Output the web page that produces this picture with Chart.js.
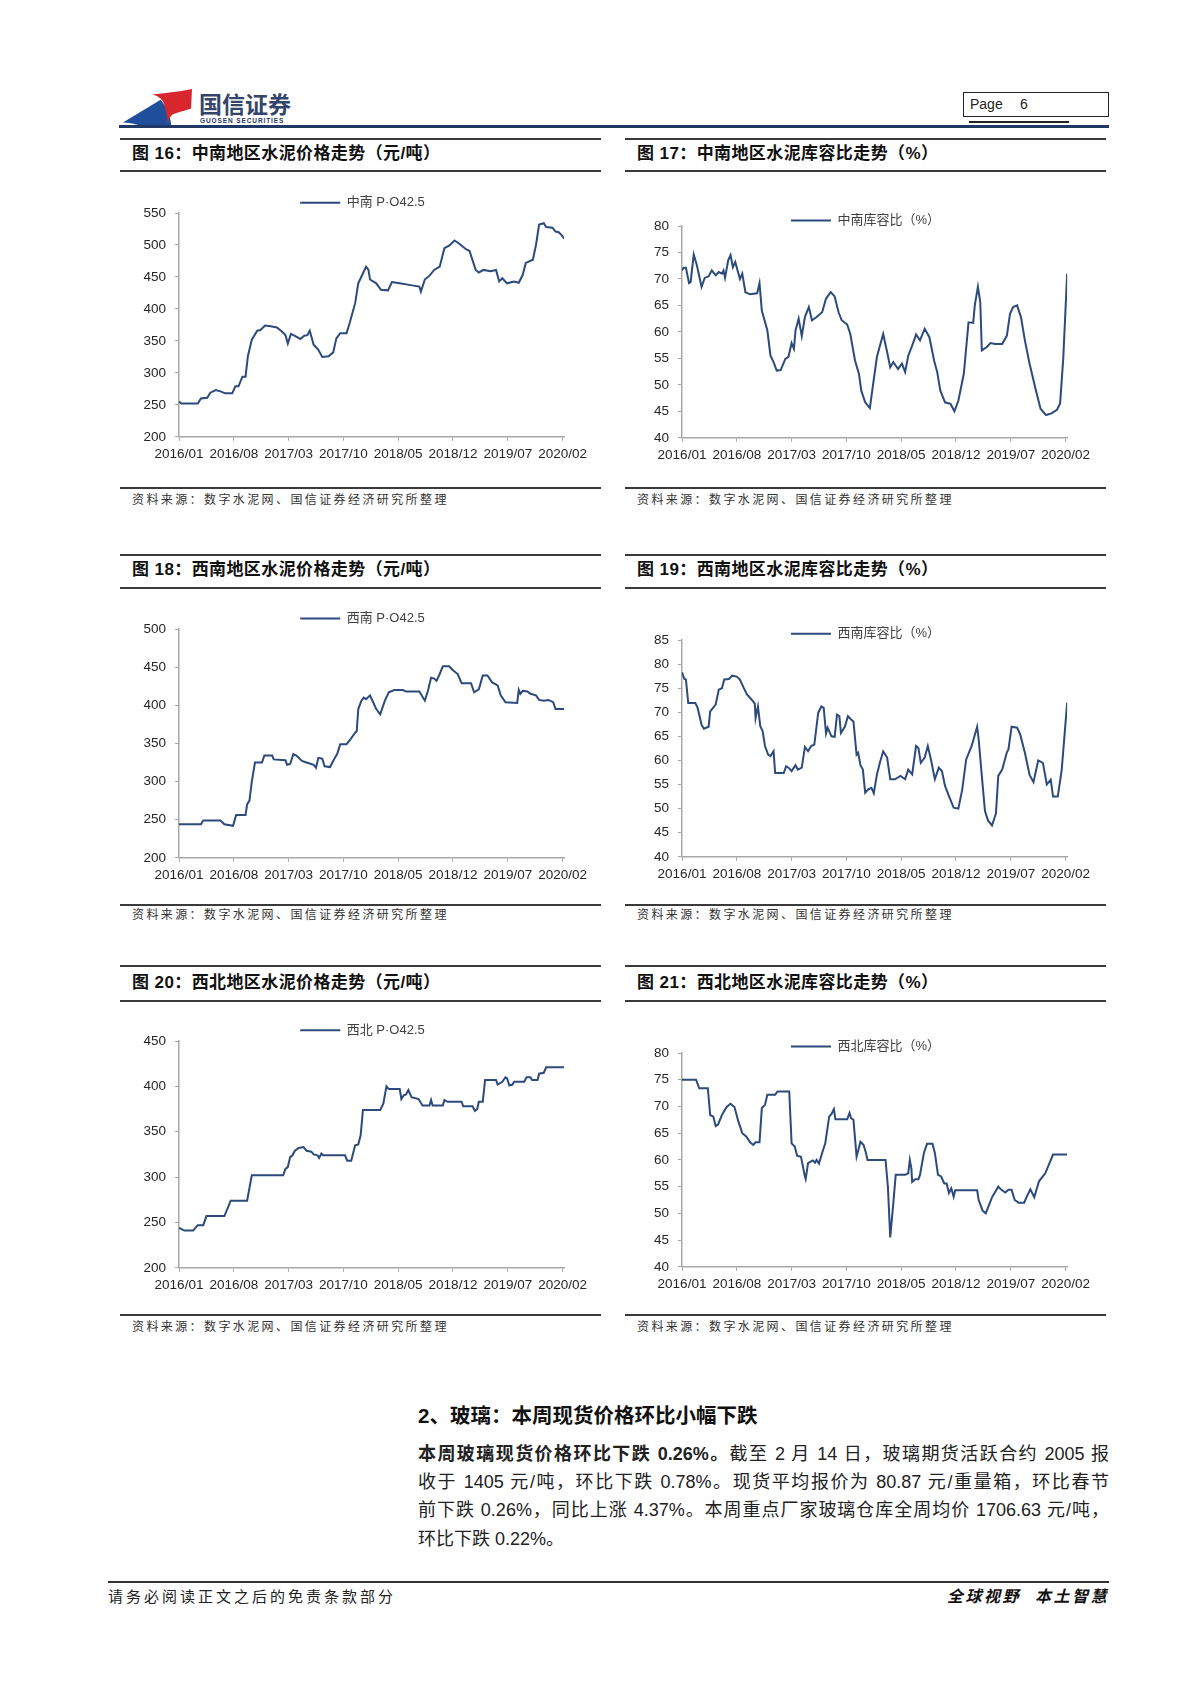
<!DOCTYPE html>
<html lang="zh-CN">
<head>
<meta charset="UTF-8">
<title>国信证券 Page 6</title>
<style>
  body { margin: 0; width: 1200px; height: 1698px; position: relative; background: #fff;
         font-family: "Liberation Sans", "Noto Sans CJK SC", sans-serif; color: #222; overflow: hidden; }
  .abs { position: absolute; }
  .rule { position: absolute; height: 2px; background: #3a3a3a; }
  .title { position: absolute; font-size: 17px; font-weight: 700; line-height: 22px; color: #111;
           white-space: nowrap; letter-spacing: 0.4px; }
  .src { position: absolute; font-size: 12px; line-height: 16px; letter-spacing: 2.4px; color: #333; white-space: nowrap; }
  canvas { position: absolute; }
  .para { position: absolute; left: 418px; width: 691px; font-size: 18px; line-height: 28px; color: #222;
          text-align: justify; text-align-last: justify; }
</style>
</head>
<body>
  <!-- header -->
  <svg class="abs" style="left:120px;top:84px" width="76" height="46" viewBox="0 0 76 46">
    <path d="M3,38.6 L40.6,15.8 C47,24 51,33 51.4,43 L26.5,44 C20,41 11,39 3,38.6 Z" fill="#1f4f9a"/>
    <path d="M31.9,10.4 C45,9 58,8 72,5 L71,24.5 C64,27 58,28 53.6,30 C50,32 48.5,36 48,39.7 C47,30 45,22 42.7,16.9 C40,13 36,11 31.9,10.4 Z" fill="#d8262e"/>
  </svg>
  <div class="abs" style="left:199px;top:90px;font-size:23px;line-height:26px;font-weight:700;color:#34456b;font-family:'Noto Sans CJK SC'">国信证券</div>
  <div class="abs" style="left:200px;top:117px;font-size:6.5px;line-height:7px;font-weight:700;color:#1f3864;letter-spacing:0.9px">GUOSEN SECURITIES</div>
  <div class="abs" style="left:963px;top:92px;width:144px;height:23px;border:1px solid #222;font-size:14px;line-height:23px;">
    <span style="position:absolute;left:6px">Page</span><span style="position:absolute;left:56px">6</span>
  </div>
  <div class="abs" style="left:969px;top:121px;width:100px;height:2px;background:#222"></div>
  <div class="abs" style="left:119px;top:125px;width:990px;height:3px;background:#1f3864"></div>

  <!-- row 1 -->
  <div class="rule" style="left:120px;top:137.5px;width:481px"></div>
  <div class="rule" style="left:120px;top:169.5px;width:481px"></div>
  <div class="rule" style="left:625px;top:137.5px;width:481px"></div>
  <div class="rule" style="left:625px;top:169.5px;width:481px"></div>
  <div class="title" style="left:132px;top:143px">图 16：中南地区水泥价格走势（元/吨）</div>
  <div class="title" style="left:637px;top:143px">图 17：中南地区水泥库容比走势（%）</div>
  <div class="rule" style="left:120px;top:487px;width:481px"></div>
  <div class="rule" style="left:625px;top:487px;width:481px"></div>
  <div class="src" style="left:132px;top:492px">资料来源：数字水泥网、国信证券经济研究所整理</div>
  <div class="src" style="left:637px;top:492px">资料来源：数字水泥网、国信证券经济研究所整理</div>

  <!-- row 2 -->
  <div class="rule" style="left:120px;top:553.5px;width:481px"></div>
  <div class="rule" style="left:120px;top:587px;width:481px"></div>
  <div class="rule" style="left:625px;top:553.5px;width:481px"></div>
  <div class="rule" style="left:625px;top:587px;width:481px"></div>
  <div class="title" style="left:132px;top:559px">图 18：西南地区水泥价格走势（元/吨）</div>
  <div class="title" style="left:637px;top:559px">图 19：西南地区水泥库容比走势（%）</div>
  <div class="rule" style="left:120px;top:904px;width:481px"></div>
  <div class="rule" style="left:625px;top:904px;width:481px"></div>
  <div class="src" style="left:132px;top:907px">资料来源：数字水泥网、国信证券经济研究所整理</div>
  <div class="src" style="left:637px;top:907px">资料来源：数字水泥网、国信证券经济研究所整理</div>

  <!-- row 3 -->
  <div class="rule" style="left:120px;top:965px;width:481px"></div>
  <div class="rule" style="left:120px;top:1000px;width:481px"></div>
  <div class="rule" style="left:625px;top:965px;width:481px"></div>
  <div class="rule" style="left:625px;top:1000px;width:481px"></div>
  <div class="title" style="left:132px;top:972px">图 20：西北地区水泥价格走势（元/吨）</div>
  <div class="title" style="left:637px;top:972px">图 21：西北地区水泥库容比走势（%）</div>
  <div class="rule" style="left:120px;top:1314px;width:481px"></div>
  <div class="rule" style="left:625px;top:1314px;width:481px"></div>
  <div class="src" style="left:132px;top:1319px">资料来源：数字水泥网、国信证券经济研究所整理</div>
  <div class="src" style="left:637px;top:1319px">资料来源：数字水泥网、国信证券经济研究所整理</div>

  <canvas id="c16" width="480" height="300"></canvas>
  <canvas id="c17" width="480" height="300"></canvas>
  <canvas id="c18" width="480" height="300"></canvas>
  <canvas id="c19" width="480" height="300"></canvas>
  <canvas id="c20" width="480" height="300"></canvas>
  <canvas id="c21" width="480" height="300"></canvas>

  <!-- text section -->
  <div class="abs" style="left:418px;top:1402px;font-size:20.5px;line-height:28px;font-weight:700;color:#111">2、玻璃：本周现货价格环比小幅下跌</div>
  <div class="para" style="top:1440px"><b>本周玻璃现货价格环比下跌 0.26%。</b>截至 2 月 14 日，玻璃期货活跃合约 2005 报</div>
  <div class="para" style="top:1468px">收于 1405 元/吨，环比下跌 0.78%。现货平均报价为 80.87 元/重量箱，环比春节</div>
  <div class="para" style="top:1496px">前下跌 0.26%，同比上涨 4.37%。本周重点厂家玻璃仓库全周均价 1706.63 元/吨，</div>
  <div class="para" style="top:1525px;text-align-last:left">环比下跌 0.22%。</div>

  <!-- footer -->
  <div class="abs" style="left:108px;top:1581px;width:1001px;height:1.5px;background:#333"></div>
  <div class="abs" style="left:108px;top:1587px;font-size:15px;line-height:20px;letter-spacing:3px;color:#222">请务必阅读正文之后的免责条款部分</div>
  <div class="abs" style="left:946px;top:1587px;width:163px;font-size:16px;line-height:20px;font-weight:700;font-style:italic;letter-spacing:2.5px;color:#111;text-align:right;white-space:nowrap">全球视野&nbsp;&nbsp;本土智慧</div>

  <script src="https://cdn.jsdelivr.net/npm/chart.js"></script>
  <script>
    // x axis: months since the first weekly reading (early Jan 2016)
    const tickMonths = [0, 7, 14, 21, 28, 35, 42, 49];
    const tickLabels = ['2016/01', '2016/08', '2017/03', '2017/10', '2018/05', '2018/12', '2019/07', '2020/02'];
    const lastMonth = 49.2;

    // 图16 中南 P·O42.5 (元/吨)
    const zhongnanPriceMonth = [0,0.3,2.4,2.8,3.6,4.0,4.7,5.3,5.9,6.8, 7.2,7.6,8.1,8.5,8.8,9.3,10.0,10.4,11.0,11.7,
      12.5,13.1,13.6,13.9,14.3,14.8,15.5,16.0,16.4,16.7, 17.2,17.8,18.3,19.1,19.7,20.1,20.6,21.4,21.8,22.5,
      22.9,23.4,23.9,24.2,24.4,25.2,25.8,26.7,27.2,28.2, 29.2,30.7,30.9,31.4,32.0,32.6,33.3,33.9,34.5,35.2,
      35.8,36.7,37.1,37.9,38.3,38.9,39.8,40.5,40.9,41.3, 41.9,42.8,43.4,43.9,44.3,45.2,45.6,46.0,46.6,46.9,
      47.7,48.1,48.5,48.9,49.2];
    const zhongnanPrice = [255,252,252,260,261,269,273,271,268,268, 279,279,294,294,326,352,366,367,374,373,
      371,365,359,346,361,358,353,358,359,366, 344,336,325,326,332,354,362,362,378,409,
      440,453,466,461,446,440,430,429,442,440, 438,435,427,446,452,461,466,495,499,507,
      502,493,491,461,457,461,459,461,443,448, 440,443,441,453,472,477,500,532,534,528,
      527,521,520,515,510];

    // 图17 中南库容比 (%)
    const zhongnanStockMonth = [0,0.2,0.5,0.9,1.1,1.5,1.9,2.5,2.9,3.4, 3.8,4.3,4.7,5.1,5.3,5.5,5.9,6.2,6.5,6.8,
      7.1,7.4,7.7,8.1,8.7,9.6,9.9,10.2,10.9,11.3, 11.7,12.1,12.6,13.2,13.6,14.0,14.3,14.5,14.9,15.3,
      15.7,16.2,16.6,17.2,17.9,18.4,19.0,19.5,20.0,20.4, 21.1,21.5,22.1,22.6,22.9,23.4,24.0,24.3,24.9,25.7,
      26.2,26.6,27.0,27.6,28.1,28.5,28.9,29.4,29.9,30.4, 31.0,31.6,32.2,32.6,33.0,33.6,34.3,34.8,35.3,36.0,
      36.6,37.2,37.4,37.8,38.1,38.3,38.9,39.4,40.0,40.9, 41.5,41.9,42.3,42.8,43.3,43.8,44.4,45.2,45.8,46.5,
      47.2,47.9,48.3,48.7,49.2];
    const zhongnanStock = [71.6,72.1,72.1,69.2,69.4,74.6,72.6,68.5,70.2,70.5, 71.6,70.7,71.3,71.0,71.6,70.2,73.5,74.5,72.2,73.2,
      71.6,70.0,71.0,67.5,67.1,67.3,69.2,64.0,60.3,55.5, 54.3,52.7,52.8,54.9,55.3,57.9,56.8,60.3,62.5,59.2,
      62.8,64.7,62.2,62.8,63.7,66.3,67.5,66.7,63.7,62.2, 61.4,59.6,54.6,52.1,48.9,46.7,45.6,48.9,55.3,59.6,
      56.2,53.3,54.3,53.0,54.0,52.4,55.5,57.4,59.5,58.4, 60.6,59.0,54.6,52.4,48.9,46.7,46.4,45.0,47.0,52.1,
      61.8,61.7,65.0,68.5,65.6,56.5,57.1,57.9,57.7,57.7, 59.3,63.4,64.7,65.0,62.8,58.4,54.0,49.0,45.5,44.3,
      44.6,45.3,46.5,55.0,71.0];

    // 图18 西南 P·O42.5 (元/吨)
    const xinanPriceMonth = [0,2.8,3.1,5.3,5.8,6.9,7.3,8.5,8.7,9.0, 9.3,9.7,10.6,10.9,11.9,12.1,13.6,13.8,14.2,14.6,
      15.0,15.7,16.3,17.2,17.5,17.8,18.3,18.6,19.3,19.9, 20.2,20.6,21.4,21.8,22.5,22.7,22.9,23.3,23.6,23.9,
      24.4,24.8,25.2,25.7,26.3,26.8,27.5,28.6,29.0,30.7, 31.4,31.8,32.2,32.6,32.9,33.3,33.7,34.5,35.0,35.6,
      36.1,37.3,37.7,38.3,38.8,39.4,40.0,40.7,41.1,41.7, 43.2,43.4,43.6,43.9,44.5,44.9,45.6,46.0,46.6,47.2,
      47.8,48.1,49.2];
    const xinanPrice = [244,244,249,249,244,242,256,256,270,275, 300,325,325,334,334,329,328,322,323,336,
      334,327,325,322,318,331,330,320,319,331, 336,349,349,354,364,366,395,406,410,408,
      413,404,395,388,406,417,420,420,418,418, 406,419,436,435,432,441,451,451,446,441,
      429,429,417,421,439,439,430,426,413,404, 403,420,415,419,418,415,413,407,406,407,
      404,395,395];

    // 图19 西南库容比 (%)
    const xinanStockMonth = [0,0.3,0.5,0.8,1.7,2.0,2.5,2.8,3.4,3.6, 4.3,4.7,5.1,5.4,6.0,6.4,7.0,7.4,7.9,8.3,
      8.9,9.3,9.4,9.7,10.0,10.3,10.6,11.0,11.3,11.7, 11.9,13.0,13.3,13.6,14.0,14.5,14.8,15.3,15.7,16.1,
      16.5,16.9,17.4,17.8,18.1,18.4,18.6,19.1,19.5,19.8, 20.1,20.3,20.8,21.2,21.6,21.9,22.3,22.5,22.8,23.1,
      23.4,23.8,24.2,24.5,24.9,25.3,25.7,26.2,26.6,27.2, 27.9,28.5,28.9,29.4,29.9,30.2,30.5,31.0,31.4,31.8,
      32.3,32.8,33.2,33.6,34.1,34.7,35.3,35.8,36.3,37.0, 37.7,37.9,38.3,38.7,39.1,39.6,40.1,40.4,40.9,41.5,
      41.7,42.1,42.8,43.2,43.8,44.4,44.9,45.5,46.1,46.6, 47.1,47.4,48.0,48.5,49.2];
    const xinanStock = [78.3,76.9,76.8,71.9,71.9,70.9,67.4,66.6,67.0,70.2, 71.6,74.7,75.0,76.8,76.9,77.6,77.4,76.8,75.0,73.7,
      72.6,71.8,68.8,71.2,67.1,66.1,63.0,61.2,60.9,61.9, 57.4,57.4,58.8,58.5,57.8,59.0,58.1,58.5,62.8,61.9,
      63.0,63.3,69.9,71.2,70.9,65.6,66.8,65.0,64.9,69.5, 69.2,65.7,67.0,69.2,68.5,68.1,61.2,61.6,59.0,58.1,
      53.3,54.0,54.3,53.2,57.1,59.7,61.9,60.6,56.1,56.1, 56.8,56.1,58.1,57.1,63.0,62.6,59.5,60.6,63.0,60.2,
      56.1,58.5,57.8,54.7,52.6,50.2,50.0,54.0,60.2,63.0, 67.0,64.3,56.8,49.5,47.5,46.5,49.0,56.8,58.1,61.7,
      62.3,67.0,66.8,65.4,61.6,57.0,55.5,60.0,59.5,55.0, 56.0,52.5,52.5,58.0,72.0];

    // 图20 西北 P·O42.5 (元/吨)
    const xibeiPriceMonth = [0,0.7,1.8,2.4,3.1,3.5,5.8,6.6,8.7,9.3, 13.3,13.6,13.9,14.2,14.5,14.8,15.3,15.9,16.3,16.9,
      17.2,17.7,17.9,18.2,18.4,21.2,21.5,22.0,22.5,22.9, 23.2,23.5,25.7,26.1,26.5,26.8,28.2,28.4,28.7,29.0,
      29.3,29.7,30.6,31.1,32.0,32.2,32.4,33.7,33.9,34.3, 36.1,36.3,37.5,37.8,38.1,38.3,38.8,39.1,40.5,40.7,
      41.3,41.7,41.9,42.2,42.6,42.8,44.1,44.4,44.9,45.1, 45.8,46.0,46.6,46.9,49.2];
    const xibeiPrice = [244,241,241,247,247,257,257,274,274,302, 302,309,311,322,324,329,332,333,329,328,
      325,324,321,326,324,324,318,318,335,336, 346,374,374,381,400,397,397,386,390,391,
      396,388,386,379,379,385,379,379,385,383, 383,378,378,373,375,383,383,407,407,402,
      405,410,409,401,402,405,405,410,410,407, 407,414,415,421,421];

    // 图21 西北库容比 (%)
    const xibeiStockMonth = [0,1.8,2.2,3.3,3.6,4.0,4.3,4.6,5.1,5.7, 6.2,6.7,7.2,7.7,8.2,8.7,9.1,9.4,9.9,10.2,
      10.6,10.9,11.9,12.2,13.7,14.0,14.4,14.7,15.2,15.7, 15.8,16.1,16.7,17.0,17.2,17.5,17.9,18.3,18.8,19.1,
      19.4,19.6,21.1,21.4,21.6,21.9,22.3,22.8,23.2,23.5, 23.7,26.0,26.3,26.6,27.0,27.3,28.5,28.9,29.1,29.3,
      29.4,29.8,30.2,30.4,30.9,31.3,32.0,32.3,32.7,33.1, 33.5,33.8,34.1,34.4,34.7,34.9,37.7,37.9,38.4,38.8,
      39.2,39.6,40.4,40.8,41.3,41.7,42.1,42.5,43.0,43.7, 44.0,44.5,45.0,45.6,46.4,47.4,49.2];
    const xibeiStock = [75,75,73.4,73.4,68.4,68.1,66.3,66.6,68.4,69.9, 70.5,69.9,67.2,65.0,64.4,63.3,62.8,63.3,63.3,69.7,
      70.3,72.2,72.2,72.8,72.8,63.1,62.5,60.8,60.6,56.9, 56.4,59.4,59.9,59.5,60.0,59.3,61.3,63.1,68.1,68.6,
      69.5,67.6,67.6,68.8,67.8,67.5,60.6,63.4,62.8,61.3, 60,60,55,45.5,52,57.2,57.2,57.5,60,58.4,
      55.9,56.4,56.4,57.2,61.3,63.0,63.0,61.3,57.2,56.9, 55.6,55.6,53.8,54.7,53.1,54.3,54.3,52.5,50.5,50,
      51.5,53,55,54.4,53.9,54.4,54.4,52.5,52,52, 53,54.5,53,56,57.5,61,61];

    const navy = '#2c4a7c';
    const axisGrey = '#a8a8a8';
    const latin = '"Liberation Sans", "Noto Sans CJK SC", sans-serif';

    // puts the legend a fixed distance above the plot, like the Excel original
    const legendNudge = {
      id: 'legendNudge',
      afterLayout(chart, args, opts) {
        const lg = chart.legend;
        if (!lg) return;
        const h = lg.bottom - lg.top;
        lg.top = chart.chartArea.top - opts.gap - opts.padding - opts.size / 2;
        lg.bottom = lg.top + h;
      }
    };

    function makeChart(id, months, values, label, yMin, yMax, yStep, frame) {
      const canvas = document.getElementById(id);
      const chart = new Chart(canvas, {
        type: 'line',
        data: {
          datasets: [{
            label: label,
            data: months.map((m, i) => ({ x: m, y: values[i] })),
            borderColor: navy,
            backgroundColor: navy,
            borderWidth: 2,
            pointRadius: 0,
            pointStyle: 'line',
            tension: 0
          }]
        },
        options: {
          responsive: false,
          maintainAspectRatio: false,
          animation: false,
          plugins: {
            legend: {
              position: 'top',
              labels: {
                usePointStyle: true, pointStyle: 'line', pointStyleWidth: 40,
                padding: 4, color: '#404040', font: { size: 13, family: latin }
              }
            },
            tooltip: { enabled: false },
            legendNudge: { gap: frame.gap, padding: 4, size: 13 }
          },
          scales: {
            x: {
              type: 'linear', min: 0, max: lastMonth,
              afterBuildTicks: s => { s.ticks = tickMonths.map(v => ({ value: v })); },
              ticks: {
                callback: (v, i) => tickLabels[i],
                autoSkip: false, maxRotation: 0, padding: 5,
                color: '#262626', font: { size: 13.5, family: latin }
              },
              grid: { drawOnChartArea: false, tickLength: 4, color: axisGrey },
              border: { color: axisGrey, width: 1.5 }
            },
            y: {
              min: yMin, max: yMax,
              afterFit: s => { s.width = 46; },
              ticks: { stepSize: yStep, padding: 9, color: '#262626', font: { size: 13.5, family: latin } },
              grid: { drawOnChartArea: false, tickLength: 4, color: axisGrey },
              border: { color: axisGrey, width: 1.5 }
            }
          }
        },
        plugins: [legendNudge]
      });
      // size and place the canvas so the plot area sits where the original has it
      const a = chart.chartArea;
      chart.resize(Math.round(chart.width + (frame.right - frame.left) - (a.right - a.left)),
                   Math.round(chart.height + (frame.bottom - frame.top) - (a.bottom - a.top)));
      const b = chart.chartArea;
      canvas.style.left = (frame.left - b.left) + 'px';
      canvas.style.top = (frame.top - b.top) + 'px';
      return chart;
    }

    makeChart('c16', zhongnanPriceMonth, zhongnanPrice, '中南 P·O42.5', 200, 550, 50,
      { left: 178.5, right: 564.2, top: 213.3, bottom: 437, gap: 10.3 });
    makeChart('c17', zhongnanStockMonth, zhongnanStock, '中南库容比（%）', 40, 80, 5,
      { left: 682, right: 1067.7, top: 225.5, bottom: 437, gap: 5.5 });
    makeChart('c18', xinanPriceMonth, xinanPrice, '西南 P·O42.5', 200, 500, 50,
      { left: 178.5, right: 564.2, top: 628.5, bottom: 857.5, gap: 10.5 });
    makeChart('c19', xinanStockMonth, xinanStock, '西南库容比（%）', 40, 85, 5,
      { left: 682, right: 1067.7, top: 640.2, bottom: 857.5, gap: 6.2 });
    makeChart('c20', xibeiPriceMonth, xibeiPrice, '西北 P·O42.5', 200, 450, 50,
      { left: 178.5, right: 564.2, top: 1040.7, bottom: 1267.3, gap: 10.7 });
    makeChart('c21', xibeiStockMonth, xibeiStock, '西北库容比（%）', 40, 80, 5,
      { left: 682, right: 1067.7, top: 1053.3, bottom: 1267, gap: 6.6 });
  </script>
</body>
</html>
